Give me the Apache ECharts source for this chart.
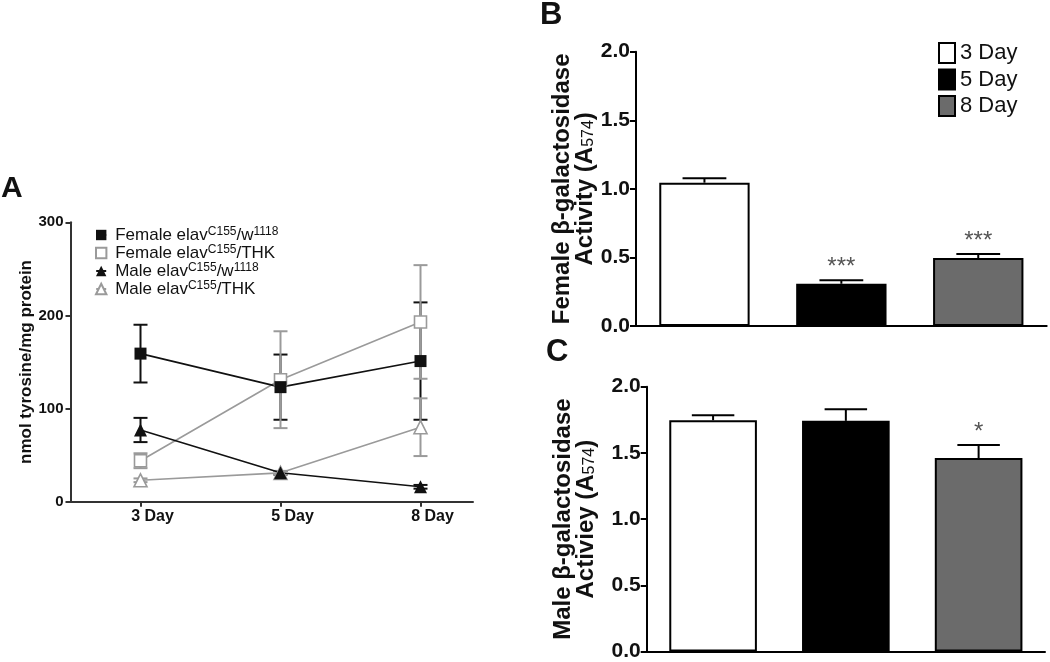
<!DOCTYPE html>
<html>
<head>
<meta charset="utf-8">
<script src="https://cdn.jsdelivr.net/npm/echarts@6/dist/echarts.min.js"></script>
<style>html,body{margin:0;padding:0;background:#fff}#c{width:1050px;height:662px}</style>
</head>
<body>
<div id="c"></div>
<script>
// ---------- DATA ----------
var daysA = ['3 Day', '5 Day', '8 Day'];
var seriesNamesA = ['Female elavC155/w1118', 'Female elavC155/THK', 'Male elavC155/w1118', 'Male elavC155/THK'];
var femaleW1118 = [159, 123, 151];
var femaleW1118Err = [31, 35, 63];
var femaleTHK = [44, 131, 193];
var femaleTHKErr = [8, 52, 61];
var maleW1118 = [77, 31, 16];
var maleW1118Err = [13, 2, 2];
var maleTHK = [23, 31, 80];
var maleTHKErr = [2, 2, 31];
var yTicksA = [0, 100, 200, 300];

var dayGroups = ['3 Day', '5 Day', '8 Day'];
var femaleActivity = [1.045, 0.308, 0.496];
var femaleActivityErr = [0.032, 0.025, 0.029];
var femaleSig = ['', '***', '***'];
var maleActivity = [1.747, 1.742, 1.461];
var maleActivityErr = [0.038, 0.088, 0.098];
var maleSig = ['', '', '*'];

// ---------- STYLE ----------
var FONT = 'Liberation Sans, Arial, Helvetica, sans-serif';
var BLACK = '#111111', GRAY = '#9a9a9a';
var barColors = ['#ffffff', '#000000', '#6b6b6b'];

var chart = echarts.init(document.getElementById('c'));

function errSeriesA(name, vals, errs, color) {
  return {
    type: 'custom', name: name, xAxisIndex: 0, yAxisIndex: 0, z: 3, silent: true,
    data: vals.map(function (v, i) { return [i, v - errs[i], v + errs[i]]; }),
    encode: { x: 0, y: [1, 2] },
    renderItem: function (params, api) {
      var lo = api.coord([api.value(0), api.value(1)]);
      var hi = api.coord([api.value(0), api.value(2)]);
      var hw = 7;
      var st = { stroke: color, lineWidth: 2 };
      return { type: 'group', children: [
        { type: 'line', shape: { x1: lo[0], y1: lo[1], x2: hi[0], y2: hi[1] }, style: st },
        { type: 'line', shape: { x1: lo[0] - hw, y1: lo[1], x2: lo[0] + hw, y2: lo[1] }, style: st },
        { type: 'line', shape: { x1: hi[0] - hw, y1: hi[1], x2: hi[0] + hw, y2: hi[1] }, style: st }
      ]};
    }
  };
}
function lineSeriesA(name, vals, color, symbol, filled) {
  return {
    type: 'line', name: name, xAxisIndex: 0, yAxisIndex: 0, z: 4,
    data: vals.map(function (v, i) { return [i, v]; }),
    symbol: symbol, symbolSize: symbol === 'rect' ? 12 : 13, showAllSymbol: true,
    lineStyle: { color: color, width: 1.6 },
    itemStyle: { color: filled ? color : '#ffffff', borderColor: color, borderWidth: filled ? 0 : 1.6 },
    emphasis: { disabled: true }
  };
}
function barSeries(idx, vals, axisIdx) {
  return {
    type: 'bar', name: dayGroups[idx], xAxisIndex: axisIdx, yAxisIndex: axisIdx,
    data: vals.map(function (v, i) { return i === idx ? v : '-'; }),
    barWidth: '66%', barGap: '-100%', z: 2,
    itemStyle: { color: barColors[idx], borderColor: '#000', borderWidth: 2 },
    emphasis: { disabled: true }
  };
}
function errSeriesBar(vals, errs, sig, axisIdx) {
  return {
    type: 'custom', name: 'err' + axisIdx, xAxisIndex: axisIdx, yAxisIndex: axisIdx, z: 3, silent: true,
    data: vals.map(function (v, i) { return [i, v, v + errs[i]]; }),
    encode: { x: 0, y: [1, 2] },
    renderItem: function (params, api) {
      var i = api.value(0);
      var b = api.coord([i, api.value(1)]);
      var t = api.coord([i, api.value(2)]);
      var hw = api.size([1, 0])[0] * 0.16;
      var st = { stroke: '#000', lineWidth: 2 };
      var ch = [
        { type: 'line', shape: { x1: b[0], y1: b[1], x2: t[0], y2: t[1] }, style: st },
        { type: 'line', shape: { x1: t[0] - hw, y1: t[1], x2: t[0] + hw, y2: t[1] }, style: st }
      ];
      var s = sig[params.dataIndex];
      if (s) ch.push({ type: 'text', x: t[0], y: t[1] - 1, style: { text: s, fill: '#555', font: '24px ' + FONT, textAlign: 'center', textVerticalAlign: 'bottom' } });
      return { type: 'group', children: ch };
    }
  };
}

var legendRich = {
  n: { fontSize: 17, fontFamily: FONT, color: '#111', lineHeight: 18, verticalAlign: 'bottom' },
  p: { fontSize: 17, fontFamily: FONT, color: '#111', lineHeight: 18, verticalAlign: 'bottom', padding: [0, 0, 0, 4] },
  s: { fontSize: 12, fontFamily: FONT, color: '#111', lineHeight: 10, verticalAlign: 'top' }
};
function legendFmt(name) {
  var m = name.match(/^(.*elav)C155\/(w1118|THK)$/);
  if (!m) return name;
  var tail = m[2] === 'w1118' ? '{n|/w}{s|1118}' : '{n|/THK}';
  return '{p|' + m[1] + '}{s|C155}' + tail;
}
var titleRich = {
  b: { fontSize: 24, fontWeight: 'bold', fontFamily: FONT, color: '#111', lineHeight: 23 },
  sub: { fontSize: 16, fontWeight: 'normal', fontFamily: FONT, color: '#111', lineHeight: 10, verticalAlign: 'bottom' }
};
var tickLabelBC = { fontSize: 21, fontWeight: 'bold', fontFamily: FONT, color: '#111', margin: 6, formatter: function (v) { return v.toFixed(1); } };

var option = {
  backgroundColor: '#fff',
  animation: false,
  title: [
    { text: 'A', left: 1, top: 174, padding: 0, textStyle: { fontSize: 30, fontWeight: 'bold', fontFamily: FONT, color: '#111' } },
    { text: 'B', left: 540, top: 0, padding: 0, textStyle: { fontSize: 31, fontWeight: 'bold', fontFamily: FONT, color: '#111' } },
    { text: 'C', left: 546, top: 337, padding: 0, textStyle: { fontSize: 31, fontWeight: 'bold', fontFamily: FONT, color: '#111' } }
  ],
  legend: [
    { data: seriesNamesA, orient: 'vertical', left: 95, top: 226, padding: 0, itemGap: 0, itemWidth: 10, itemHeight: 13,
      formatter: legendFmt, textStyle: { rich: legendRich }, selectedMode: false },
    { data: dayGroups.map(function (d) { return { name: d, icon: 'rect' }; }), orient: 'vertical', left: 938, top: 42, padding: 0, itemGap: 4.5, itemWidth: 16, itemHeight: 20,
      textStyle: { fontSize: 22, lineHeight: 20, fontFamily: FONT, color: '#111' }, selectedMode: false }
  ],
  grid: [
    { left: 70.5, top: 222.3, width: 402.5, height: 279.4 },
    { left: 636, top: 51.7, width: 410.7, height: 274.3 },
    { left: 646.7, top: 386.7, width: 398.3, height: 265.6 }
  ],
  xAxis: [
    { type: 'value', gridIndex: 0, min: -0.5, max: 2.375, splitLine: { show: false },
      axisLine: { onZero: false, lineStyle: { color: '#333', width: 2 } },
      axisTick: { customValues: [0, 1, 2], length: 5, lineStyle: { color: '#333', width: 2 } },
      axisLabel: { customValues: [0, 1, 2], formatter: function (v) { return daysA[Math.round(v)] || ''; }, fontSize: 16, fontWeight: 'bold', fontFamily: FONT, color: '#111', margin: 7, padding: [0, 0, 0, 24] } },
    { type: 'category', gridIndex: 1, data: dayGroups, boundaryGap: true,
      axisLine: { lineStyle: { color: '#000', width: 2 } },
      axisTick: { alignWithLabel: true, length: 6, lineStyle: { color: '#000', width: 2 } },
      axisLabel: { show: false } },
    { type: 'category', gridIndex: 2, data: dayGroups, boundaryGap: true,
      axisLine: { lineStyle: { color: '#000', width: 2 } },
      axisTick: { alignWithLabel: true, length: 6, lineStyle: { color: '#000', width: 2 } },
      axisLabel: { show: false } }
  ],
  yAxis: [
    { type: 'value', gridIndex: 0, min: yTicksA[0], max: yTicksA[yTicksA.length - 1], interval: 100, splitLine: { show: false },
      axisLine: { show: true, onZero: false, lineStyle: { color: '#333', width: 2 } },
      axisTick: { show: true, length: 5, lineStyle: { color: '#333', width: 2 } },
      axisLabel: { fontSize: 15, fontWeight: 'bold', fontFamily: FONT, color: '#111', margin: 7 },
      name: 'nmol tyrosine/mg protein', nameLocation: 'middle', nameGap: 36,
      nameTextStyle: { fontSize: 17, fontWeight: 'bold', fontFamily: FONT, color: '#111' } },
    { type: 'value', gridIndex: 1, min: 0, max: 2, interval: 0.5, splitLine: { show: false },
      axisLine: { show: true, lineStyle: { color: '#000', width: 2 } },
      axisTick: { show: true, length: 6, lineStyle: { color: '#000', width: 2 } },
      axisLabel: tickLabelBC,
      name: '{b|Female β-galactosidase}\n{b|Activity (A}{sub|574}{b|)}', nameLocation: 'middle', nameGap: 38,
      nameTextStyle: { rich: titleRich } },
    { type: 'value', gridIndex: 2, min: 0, max: 2, interval: 0.5, splitLine: { show: false },
      axisLine: { show: true, lineStyle: { color: '#000', width: 2 } },
      axisTick: { show: true, length: 6, lineStyle: { color: '#000', width: 2 } },
      axisLabel: tickLabelBC,
      name: '{b|Male β-galactosidase}\n{b|Activiey (A}{sub|574}{b|)}', nameLocation: 'middle', nameGap: 49,
      nameTextStyle: { rich: titleRich } }
  ],
  series: [
    errSeriesA('eFW', femaleW1118, femaleW1118Err, BLACK),
    errSeriesA('eFT', femaleTHK, femaleTHKErr, GRAY),
    errSeriesA('eMW', maleW1118, maleW1118Err, BLACK),
    errSeriesA('eMT', maleTHK, maleTHKErr, GRAY),
    lineSeriesA(seriesNamesA[1], femaleTHK, GRAY, 'rect', false),
    lineSeriesA(seriesNamesA[3], maleTHK, GRAY, 'triangle', false),
    lineSeriesA(seriesNamesA[0], femaleW1118, BLACK, 'rect', true),
    lineSeriesA(seriesNamesA[2], maleW1118, BLACK, 'triangle', true),
    barSeries(0, femaleActivity, 1), barSeries(1, femaleActivity, 1), barSeries(2, femaleActivity, 1),
    errSeriesBar(femaleActivity, femaleActivityErr, femaleSig, 1),
    barSeries(0, maleActivity, 2), barSeries(1, maleActivity, 2), barSeries(2, maleActivity, 2),
    errSeriesBar(maleActivity, maleActivityErr, maleSig, 2)
  ]
};
chart.setOption(option);
</script>
</body>
</html>
